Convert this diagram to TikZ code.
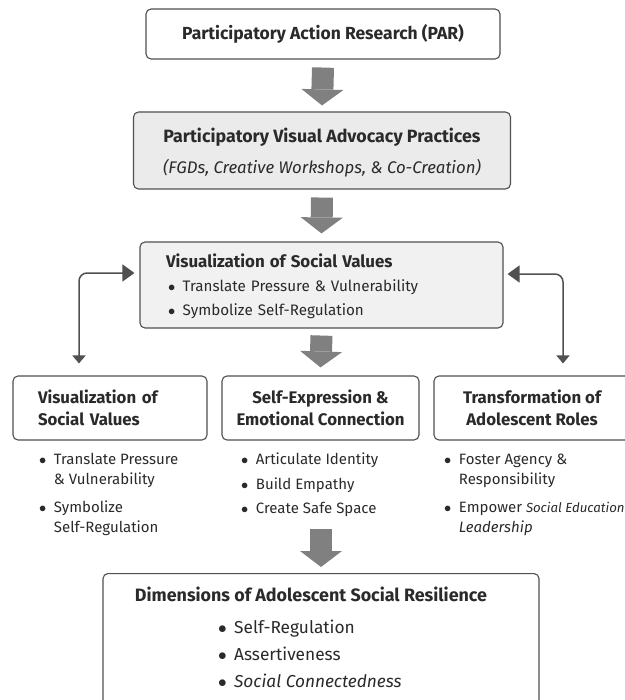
\documentclass[tikz,border=0pt]{standalone}
\usepackage{fontspec}
\setmainfont{Fira Sans}
\usetikzlibrary{arrows.meta,calc}
\definecolor{boxline}{HTML}{505050}
\definecolor{boxfill}{HTML}{EBEBEB}
\definecolor{arrowgray}{HTML}{808080}
\definecolor{inkgray}{HTML}{2A2A2A}
\newcommand{\bul}{$\bullet$\hspace{7.5pt}}
\newcommand{\cont}{\hphantom{\bul}}

\begin{document}
\begin{tikzpicture}[x=1pt,y=-1pt,
  box/.style={draw=boxline,line width=1.1pt,rounded corners=5pt,fill=white,text=inkgray,inner sep=0pt},
  greybox/.style={box,fill=boxfill},
  list/.style={align=left,text=inkgray,inner sep=0pt},
  bigarrow/.style={draw=arrowgray,line width=22pt,-{Triangle[length=16pt,width=42pt,line width=0pt]}},
  sidearrow/.style={draw=boxline,line width=1.5pt,rounded corners=8pt,
    {Triangle[length=12pt,width=17pt]}-{Triangle[length=8pt,width=13pt]}}]
\useasboundingbox (0,0) rectangle (624,700);

\node[box,minimum width=354pt,minimum height=50pt,font=\bfseries\fontsize{17.5}{20}\selectfont] (par) at (323,34) {Participatory Action Research (PAR)};

\node[greybox,minimum width=377pt,minimum height=77pt,align=center,font=\fontsize{17.8}{31}\selectfont] (pvap) at (322,150.5)
  {\rule{0pt}{18pt}\textbf{Participatory Visual Advocacy Practices}\\ \textit{\fontsize{16.8}{31}\selectfont(FGDs, Creative Workshops, \& Co-Creation)}};

\node[greybox,fill=boxfill!70!white,minimum width=363pt,minimum height=86pt,text width=311pt,inner xsep=26pt,align=left,font=\fontsize{15.2}{24}\selectfont] (vsv) at (321.5,285)
  {\rule{0pt}{17pt}\textbf{\fontsize{16.9}{24}\selectfont Visualization of Social Values}\\
   \hspace*{2pt}\bul Translate Pressure \& Vulnerability\\
   \hspace*{2pt}\bul Symbolize Self-Regulation};

% three branches
\node[box,minimum width=194pt,minimum height=64pt,text width=144pt,inner xsep=25pt,align=left,font=\bfseries\fontsize{16.8}{22}\selectfont] (vsvl) at (110,408) {Visualization of\\ Social Values};
\node[box,minimum width=197pt,minimum height=64pt,align=center,font=\bfseries\fontsize{16.8}{22}\selectfont] (sec) at (320.5,408) {Self-Expression \&\\ Emotional Connection};
\node[box,minimum width=196pt,minimum height=64pt,align=center,font=\bfseries\fontsize{16.8}{22}\selectfont] (tar) at (532,408) {Transformation of\\ Adolescent Roles};

\node[list,anchor=north west,font=\fontsize{15}{20}\selectfont] (vsvlist) at (39,453)
  {\bul Translate Pressure\\ \cont\& Vulnerability\\[8pt] \bul Symbolize\\ \cont Self-Regulation};
\node[list,anchor=north west,font=\fontsize{15}{24.5}\selectfont] (seclist) at (241,453)
  {\bul Articulate Identity\\ \bul Build Empathy\\ \bul Create Safe Space};
\node[list,anchor=north west,font=\fontsize{15}{20}\selectfont] (tarlist) at (444,454)
  {\bul Foster Agency \&\\ \cont Responsibility\\[8pt] \bul Empower {\itshape\fontsize{13.2}{20}\selectfont Social Education}\\ \cont\textit{Leadership}};

\node[box,anchor=north,minimum width=436pt,inner ysep=13pt,align=center,font=\fontsize{17.3}{27}\selectfont] (dim) at (321,573)
  {\textbf{\fontsize{17.9}{27}\selectfont Dimensions of Adolescent Social Resilience}\hspace*{20pt}\\[5.5pt]
   \makebox[206pt][l]{\bul Self-Regulation}\\
   \makebox[206pt][l]{\bul Assertiveness}\\
   \makebox[206pt][l]{\bul\textit{Social Connectedness}}\rule[-20pt]{0pt}{20pt}};

\draw[bigarrow] ([yshift=-8pt]par.south) -- ([yshift=6pt]pvap.north);
\draw[bigarrow] ([yshift=-8pt]pvap.south) -- ([yshift=8pt]vsv.north);
\draw[bigarrow] ([yshift=-7pt]vsv.south) -- ([yshift=8pt]sec.north);
\draw[bigarrow] ($(dim.north |- seclist.south)+(0,12)$) -- ([yshift=6pt]dim.north);

\draw[sidearrow] ([xshift=-5pt,yshift=12pt]vsv.west) -| ([xshift=-31pt,yshift=12pt]vsvl.north);
\draw[sidearrow] ([xshift=4pt,yshift=11pt]vsv.east) -| ([xshift=31pt,yshift=12pt]tar.north);
\end{tikzpicture}
\end{document}
